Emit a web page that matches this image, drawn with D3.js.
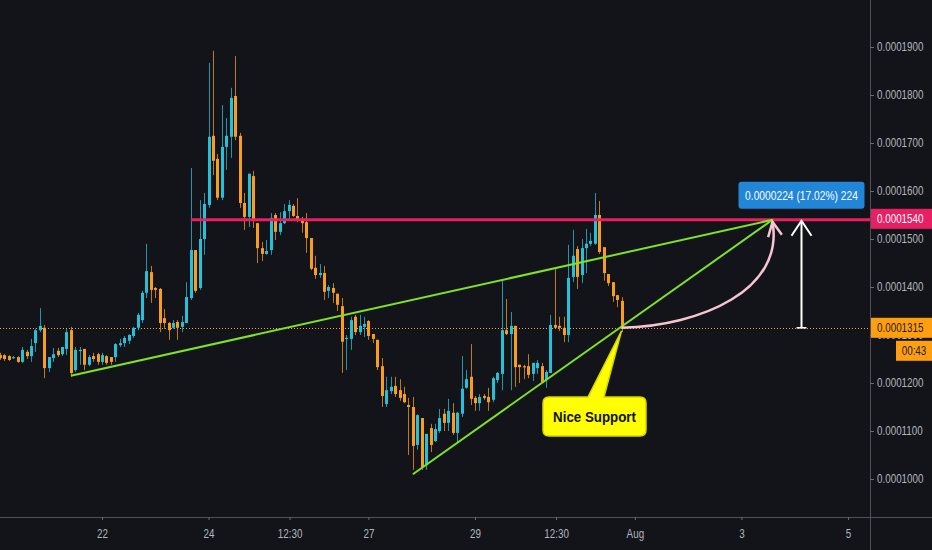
<!DOCTYPE html>
<html><head><meta charset="utf-8">
<script src="https://cdn.jsdelivr.net/npm/d3@7"></script>
<style>
html,body{margin:0;padding:0;background:#131419;overflow:hidden;}
svg{display:block;}
text{font-family:"Liberation Sans",Arimo,Roboto,sans-serif;}
</style></head><body><svg id="c" width="932" height="550"></svg>
<script>
// ---- data (prices in units of 1e-7) ----
const startTime = "2019-07-20T02:00:00Z";   // first 2h candle
const intervalHours = 2;
const open  = [1258,1258,1256,1252,1254,1244,1265,1256,1283,1310,1315,1231,1252,1267,1260,1271,1310,1227,1267,1271,1238,1256,1260,1244,1256,1254,1254,1279,1283,1288,1298,1315,1331,1388,1431,1398,1396,1335,1325,1315,1327,1317,1325,1377,1477,1398,1500,1571,1715,1667,1586,1692,1713,1798,1715,1575,1546,1631,1533,1481,1469,1477,1550,1515,1533,1558,1569,1548,1542,1535,1502,1440,1425,1429,1392,1398,1386,1360,1292,1292,1338,1306,1317,1329,1302,1290,1235,1156,1183,1194,1185,1177,1154,1150,1071,1127,1029,1106,1079,1100,1136,1117,1138,1096,1136,1190,1213,1169,1158,1173,1171,1165,1206,1219,1310,1302,1319,1238,1235,1235,1219,1231,1235,1206,1221,1321,1319,1315,1300,1421,1479,1425,1481,1490,1490,1550,1483,1427,1410,1383,1371];
const high  = [1263,1260,1258,1256,1256,1275,1269,1292,1313,1356,1321,1254,1273,1273,1275,1313,1317,1275,1275,1271,1258,1263,1263,1263,1258,1254,1283,1292,1298,1302,1317,1346,1392,1490,1444,1400,1398,1354,1327,1331,1331,1340,1410,1648,1477,1581,1596,1867,1892,1677,1779,1752,1815,1881,1721,1596,1636,1642,1533,1494,1498,1554,1554,1556,1573,1581,1573,1585,1546,1554,1502,1465,1448,1444,1404,1408,1386,1377,1300,1338,1342,1342,1338,1331,1302,1290,1252,1213,1213,1213,1208,1192,1169,1171,1135,1127,1094,1115,1115,1146,1146,1167,1158,1140,1256,1227,1281,1173,1177,1177,1190,1213,1223,1415,1375,1348,1319,1238,1238,1260,1242,1248,1242,1227,1342,1440,1338,1338,1488,1519,1485,1500,1521,1513,1596,1579,1483,1427,1410,1383,1379];
const low   = [1248,1246,1246,1250,1242,1242,1250,1244,1265,1306,1210,1223,1244,1254,1256,1258,1213,1223,1238,1227,1235,1244,1238,1238,1238,1238,1244,1275,1275,1281,1294,1310,1325,1377,1367,1377,1306,1313,1290,1313,1290,1306,1325,1373,1388,1394,1467,1565,1633,1581,1581,1644,1669,1706,1565,1519,1525,1523,1450,1454,1467,1467,1498,1508,1531,1542,1546,1535,1513,1471,1435,1417,1419,1373,1377,1367,1350,1221,1227,1269,1300,1300,1296,1290,1283,1227,1150,1150,1177,1171,1163,1158,1050,1019,1061,1019,1019,1056,1077,1096,1100,1100,1092,1077,1129,1188,1154,1142,1142,1165,1142,1160,1200,1185,1300,1185,1192,1200,1208,1210,1204,1219,1200,1190,1221,1315,1308,1285,1285,1410,1396,1408,1429,1485,1488,1469,1413,1402,1369,1358,1306];
const close = [1252,1250,1248,1254,1244,1269,1256,1277,1310,1319,1231,1254,1260,1258,1275,1306,1221,1269,1269,1238,1254,1250,1244,1258,1242,1244,1281,1283,1294,1300,1315,1342,1388,1433,1394,1394,1325,1325,1310,1325,1315,1327,1379,1477,1392,1500,1573,1713,1663,1586,1692,1715,1794,1713,1575,1546,1636,1540,1481,1469,1475,1544,1515,1533,1558,1571,1548,1540,1533,1502,1438,1425,1429,1390,1400,1388,1363,1286,1294,1331,1306,1319,1323,1298,1292,1233,1173,1185,1192,1177,1169,1160,1150,1069,1133,1025,1094,1071,1104,1127,1117,1142,1096,1138,1188,1208,1167,1158,1171,1169,1160,1210,1221,1310,1302,1319,1233,1233,1233,1217,1242,1242,1202,1223,1321,1315,1315,1300,1419,1465,1421,1481,1490,1496,1550,1473,1429,1408,1381,1373,1315];

const priceTicks = [1000,1100,1200,1300,1400,1500,1600,1700,1800,1900];
const timeTicks = ["2019-07-22T00:00:00Z","2019-07-24T00:00:00Z","2019-07-25T12:30:00Z","2019-07-27T00:00:00Z","2019-07-29T00:00:00Z","2019-07-30T12:30:00Z","2019-08-01T00:00:00Z","2019-08-03T00:00:00Z","2019-08-05T00:00:00Z"];
const timeTickLabels = ["22","24","12:30","27","29","12:30","Aug","3","5"];

const resistancePrice = 1540;
const lastPrice = 1315;
const countdownLabel = "00:43";
const measureLabel = "0.0000224 (17.02%) 224";
const calloutLabel = "Nice Support";
// drawing anchors (time, price)
const trendA = [["2019-07-21T10:00:00Z",1215],["2019-08-03T14:00:00Z",1540]];
const trendB = [["2019-07-27T20:00:00Z",1010],["2019-08-03T14:00:00Z",1540]];
const resistanceStart = "2019-07-23T16:00:00Z";
const supportPoint = ["2019-07-31T18:00:00Z",1315];
const target = ["2019-08-03T14:00:00Z",1540];
const measureTime = "2019-08-04T03:00:00Z";

// ---- setup ----
const W=932,H=550, axisX=870, axisY=517, SX=0.82;
const fmt = p => (p*1e-7).toFixed(7);
const svg = d3.select("#c");
svg.append("rect").attr("width",W).attr("height",H).attr("fill","#131419");

const x = d3.scaleUtc().domain([new Date("2019-07-22T00:00:00Z"), new Date("2019-08-05T00:00:00Z")]).range([102,848]);
const y = d3.scaleLinear().domain([1000,1900]).range([479,47]);

const t0 = new Date(startTime).getTime();
const candles = open.map((o,i)=>({t:new Date(t0 + i*intervalHours*3600e3), o, h:high[i], l:low[i], c:close[i]}));

// narrow text helper: compress horizontally around its x anchor
function narrowText(sel, s){
  sel.each(function(){
    const t=d3.select(this); const xx=+t.attr("x")||0, yy=+t.attr("y")||0;
    t.attr("x",0).attr("y",0).attr("transform",`translate(${xx},${yy}) scale(${s||SX},1)`);
  });
}

svg.append("clipPath").attr("id","pane").append("rect").attr("x",0).attr("y",0).attr("width",axisX).attr("height",axisY);
const pane = svg.append("g").attr("clip-path","url(#pane)");

// axes lines
svg.append("line").attr("x1",0).attr("x2",W).attr("y1",axisY+0.5).attr("y2",axisY+0.5).attr("stroke","#4e515b").attr("stroke-width",1);
svg.append("line").attr("x1",axisX+0.5).attr("x2",axisX+0.5).attr("y1",0).attr("y2",H).attr("stroke","#4e515b").attr("stroke-width",1);

// last price dotted line
pane.append("line").attr("x1",0).attr("x2",axisX).attr("y1",Math.round(y(lastPrice))+0.5).attr("y2",Math.round(y(lastPrice))+0.5)
  .attr("stroke","#f6a43a").attr("stroke-width",1).attr("stroke-dasharray","1,2");

// candles
const up="#26c1d9", dn="#f99e1a";
const cg = pane.append("g");
cg.selectAll("line.w").data(candles).join("line").attr("class","w")
  .attr("x1",d=>Math.round(x(d.t))+0.5).attr("x2",d=>Math.round(x(d.t))+0.5)
  .attr("y1",d=>y(d.h)).attr("y2",d=>y(d.l))
  .attr("stroke",d=>d.c>=d.o?up:dn).attr("stroke-opacity",0.75).attr("stroke-width",1);
cg.selectAll("rect.b").data(candles).join("rect").attr("class","b")
  .attr("x",d=>Math.round(x(d.t))-1).attr("width",3)
  .attr("y",d=>y(Math.max(d.o,d.c))).attr("height",d=>Math.max(1.2,Math.abs(y(d.o)-y(d.c))))
  .attr("fill",d=>d.c>=d.o?up:dn);

// resistance line
pane.append("line").attr("x1",x(new Date(resistanceStart))).attr("x2",axisX)
  .attr("y1",y(resistancePrice)).attr("y2",y(resistancePrice)).attr("stroke","#e91e63").attr("stroke-width",3);

// trend lines
[trendA,trendB].forEach(tl=>{
  pane.append("line").attr("x1",x(new Date(tl[0][0]))).attr("y1",y(tl[0][1]))
    .attr("x2",x(new Date(tl[1][0]))).attr("y2",y(tl[1][1]))
    .attr("stroke","#7fe323").attr("stroke-width",2);
});

// curved projection arrow
const sx=x(new Date(supportPoint[0])), sy=y(supportPoint[1]);
const tx=x(new Date(target[0])), ty=y(target[1]);
const c1=[sx+80, sy-2], c2=[tx+12, sy-38];
const curve = d3.path(); curve.moveTo(sx,sy); curve.bezierCurveTo(c1[0],c1[1],c2[0],c2[1],tx,ty+2);
pane.append("path").attr("d",curve.toString()).attr("fill","none").attr("stroke","#f7c5d2").attr("stroke-width",2.5);
{
  const ang=Math.atan2((ty+2)-c2[1], tx-c2[0]);
  const L=16, a=0.45;
  const p1=[tx-L*Math.cos(ang-a), ty+2-L*Math.sin(ang-a)], p2=[tx-L*Math.cos(ang+a), ty+2-L*Math.sin(ang+a)];
  pane.append("path").attr("d",`M${p1[0]},${p1[1]}L${tx},${ty+2}L${p2[0]},${p2[1]}`).attr("fill","none").attr("stroke","#f7c5d2").attr("stroke-width",2.5);
}

// measure arrow
const mx=Math.round(x(new Date(measureTime)))+0.5;
pane.append("line").attr("x1",mx).attr("x2",mx).attr("y1",y(lastPrice)).attr("y2",y(resistancePrice)+1).attr("stroke","#ffffff").attr("stroke-width",2);
pane.append("line").attr("x1",mx-5).attr("x2",mx+5).attr("y1",y(lastPrice)).attr("y2",y(lastPrice)).attr("stroke","#ffffff").attr("stroke-width",1.5);
pane.append("path").attr("d",`M${mx-10},${y(resistancePrice)+16}L${mx},${y(resistancePrice)+1}L${mx+10},${y(resistancePrice)+16}`)
  .attr("fill","none").attr("stroke","#ffffff").attr("stroke-width",2);
// measure label
const mw=126, mh=27, my=y(resistancePrice)-38;
svg.append("rect").attr("x",mx-mw/2).attr("y",my).attr("width",mw).attr("height",mh).attr("rx",3).attr("fill","#2185d8");
svg.append("text").attr("x",mx).attr("y",my+mh/2+1).attr("text-anchor","middle").attr("dominant-baseline","middle")
  .attr("fill","#ffffff").attr("font-size",12.5).text(measureLabel).call(narrowText);

// callout
const bx=543, bw=103, byy=397, bh=39;
const cp = d3.path();
cp.moveTo(bx+6,byy); cp.lineTo(588,byy); cp.lineTo(sx,sy+3); cp.lineTo(604,byy);
cp.lineTo(bx+bw-6,byy); cp.quadraticCurveTo(bx+bw,byy,bx+bw,byy+6);
cp.lineTo(bx+bw,byy+bh-6); cp.quadraticCurveTo(bx+bw,byy+bh,bx+bw-6,byy+bh);
cp.lineTo(bx+6,byy+bh); cp.quadraticCurveTo(bx,byy+bh,bx,byy+bh-6);
cp.lineTo(bx,byy+6); cp.quadraticCurveTo(bx,byy,bx+6,byy); cp.closePath();
svg.append("path").attr("d",cp.toString()).attr("fill","#ffff00").attr("stroke","#d6d600").attr("stroke-width",1.5);
svg.append("text").attr("x",bx+bw/2).attr("y",byy+bh/2+1).attr("text-anchor","middle").attr("dominant-baseline","middle")
  .attr("fill","#111").attr("font-size",15.5).attr("font-weight","bold").text(calloutLabel).call(narrowText,0.86);

// right axis
const ra = svg.append("g").attr("transform",`translate(${axisX},0)`)
  .call(d3.axisRight(y).tickValues(priceTicks).tickFormat(fmt).tickSize(4).tickPadding(3));
ra.select(".domain").remove();
ra.selectAll(".tick line").attr("stroke","#6a6d78");
ra.selectAll(".tick text").attr("fill","#b2b5be").attr("font-size",12).attr("font-family",null).attr("dy",null)
  .attr("dominant-baseline","middle").call(narrowText);

// bottom axis
const ba = svg.append("g").attr("transform",`translate(0,${axisY})`)
  .call(d3.axisBottom(x).tickValues(timeTicks.map(s=>new Date(s))).tickFormat((d,i)=>timeTickLabels[i]).tickSize(3).tickPadding(9));
ba.select(".domain").remove();
ba.selectAll(".tick line").attr("stroke","#6a6d78");
ba.selectAll(".tick text").attr("fill","#b2b5be").attr("font-size",12).attr("font-family",null).attr("dy",null)
  .attr("dominant-baseline","hanging").call(narrowText);

// price labels on axis
function tag(price, bg, fg, txt, yoff, x0, w){
  const yy=y(price)+(yoff||0);
  svg.append("rect").attr("x",x0).attr("y",yy-10).attr("width",w).attr("height",20).attr("fill",bg);
  svg.append("text").attr("x",x0+(w>40?6:w/2)).attr("y",yy+1).attr("text-anchor",w>40?"start":"middle").attr("dominant-baseline","middle")
    .attr("fill",fg).attr("font-size",12).text(txt).call(narrowText);
}
tag(resistancePrice,"#e91e63","#ffffff",fmt(resistancePrice),-1,axisX+1,62);
tag(lastPrice,"#ff9f10","#1b1b1b",fmt(lastPrice),0,axisX+1,62);
tag(lastPrice,"#ff9f10","#1b1b1b",countdownLabel,23,896,36);
</script></body></html>
